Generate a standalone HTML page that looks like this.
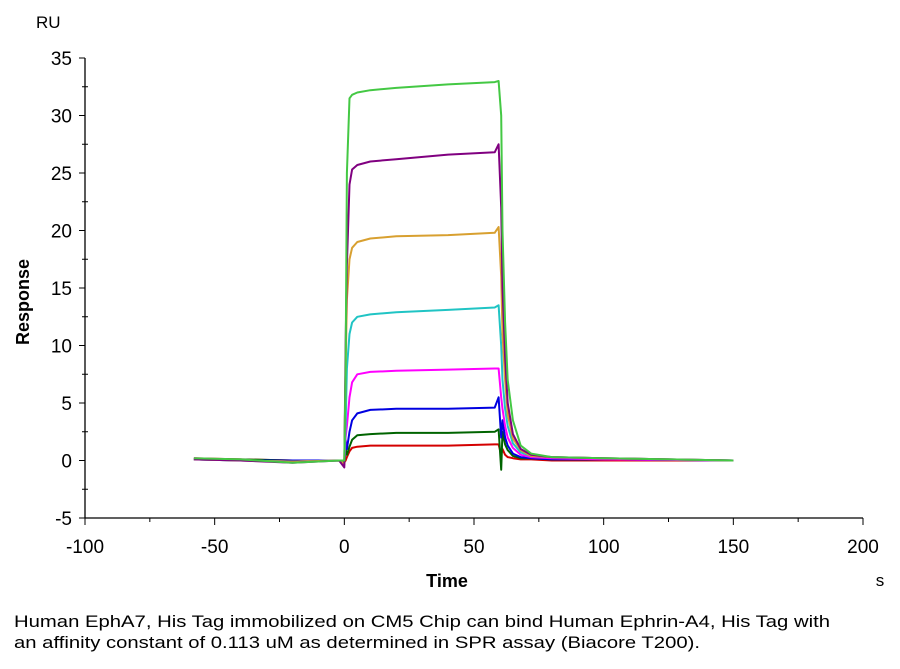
<!DOCTYPE html>
<html><head><meta charset="utf-8"><style>
body{margin:0;background:#fff;width:900px;height:664px;overflow:hidden;font-family:"Liberation Sans",Arial,sans-serif;}
svg text{font-family:"Liberation Sans",Arial,sans-serif;}
</style></head><body>
<svg id="chart" width="900" height="664" xmlns="http://www.w3.org/2000/svg">
<g id="axes"></g>
<g id="series"></g>
<text x="36" y="28" font-size="17">RU</text>
<text x="0" y="0" font-size="18" font-weight="bold" transform="translate(29,302) rotate(-90)" text-anchor="middle">Response</text>
<text x="447" y="587" font-size="18" font-weight="bold" text-anchor="middle">Time</text>
<text x="880" y="586" font-size="17" text-anchor="middle">s</text>
<text x="14" y="627" font-size="17" textLength="816" lengthAdjust="spacingAndGlyphs">Human EphA7, His Tag immobilized on CM5 Chip can bind Human Ephrin-A4, His Tag with</text>
<text x="14" y="648" font-size="17" textLength="686" lengthAdjust="spacingAndGlyphs">an affinity constant of 0.113 uM as determined in SPR assay (Biacore T200).</text>
</svg>
<script>
const times = [-58,-40,-20,-2,0,0.5,1,2,3,5,10,20,40,58,59.5,60.5,61,62,63,65,68,72,80,100,150];
const green = [0.2,0.1,-0.2,0,0,8,25,31.5,31.8,32,32.2,32.4,32.7,32.9,33,30,20,12,7,3.5,1.3,0.6,0.3,0.2,0];
const purple = [0.1,0,-0.2,0,-0.6,10,17,24,25.3,25.7,26,26.2,26.6,26.8,27.5,22,15,9,5,2.3,1,0.5,0.3,0.2,0];
const orange = [0.1,0,-0.1,0,-0.3,8,14,17.5,18.5,19,19.3,19.5,19.6,19.8,20.3,16,11,7,4,1.9,0.9,0.4,0.3,0.2,0];
const cyan = [0.1,0,-0.1,0,-0.3,3,8,11,12,12.5,12.7,12.9,13.1,13.3,13.5,10,7,4.5,3,1.5,0.7,0.4,0.3,0.2,0];
const magenta = [0.2,0,-0.1,0,-0.4,2,3,5.5,6.8,7.5,7.7,7.8,7.9,8,8,5.5,4.5,3,2,1.1,0.5,0.3,0.2,0.1,0];
const blue = [0.1,0,0,0,-0.3,1.8,1,2.5,3.5,4.1,4.4,4.5,4.5,4.6,5.5,2,3.5,2,1.3,0.6,0.3,0.2,0.1,0.1,0];
const darkgreen = [0.1,0.1,0,0,-0.3,1,0.5,1.2,1.8,2.2,2.3,2.4,2.4,2.5,2.7,-0.8,2.5,1.4,0.9,0.4,0.2,0.2,0.1,0.1,0];
const red = [0.2,0.1,0,0,-0.2,0,0.3,0.8,1.1,1.2,1.3,1.3,1.3,1.4,1.4,0.5,1,0.5,0.3,0.2,0.1,0.1,0,0,0];
const seriesNames = ["red","darkgreen","blue","magenta","cyan","orange","purple","green"];
const seriesValues = [red,darkgreen,blue,magenta,cyan,orange,purple,green];
const seriesColors = ["#d40000","#006400","#0000e0","#ff00ff","#20c4c4","#d8a030","#800080","#44c844"];
const xTicks = [-100,-50,0,50,100,150,200];
const yTicks = [-5,0,5,10,15,20,25,30,35];

const X0=85,X1=863,Y0=518,Y1=58;
const xs = v => X0+(v+100)/300*(X1-X0);
const ys = v => Y0-(v+5)/40*(Y0-Y1);
const NS="http://www.w3.org/2000/svg";
const axes=document.getElementById('axes');
function mk(tag,attrs,parent){const e=document.createElementNS(NS,tag);for(const k in attrs)e.setAttribute(k,attrs[k]);parent.appendChild(e);return e;}
let l=mk('line',{x1:X0,y1:Y0,x2:X1,y2:Y0,stroke:'#000','stroke-width':1.3},axes);


l=mk('line',{x1:X0,y1:Y0,x2:X0,y2:Y1,stroke:'#000','stroke-width':1.3},axes);


xTicks.forEach(t=>{
  const x=xs(t);
  mk('line',{x1:x,y1:Y0,x2:x,y2:Y0+7,stroke:'#000'},axes);
  if(t<200) mk('line',{x1:xs(t+25),y1:Y0,x2:xs(t+25),y2:Y0+4,stroke:'#000'},axes);
  const tx=mk('text',{x:x,y:Y0+35,'font-size':19,'text-anchor':'middle'},axes);
  tx.textContent=t;
  
  
});
yTicks.forEach(t=>{
  const y=ys(t);
  mk('line',{x1:X0-6,y1:y,x2:X0,y2:y,stroke:'#000'},axes);
  if(t<35) mk('line',{x1:X0-3,y1:ys(t+2.5),x2:X0+3,y2:ys(t+2.5),stroke:'#000'},axes);
  const tx=mk('text',{x:X0-13,y:y+7,'font-size':19,'text-anchor':'end'},axes);
  tx.textContent=t;
  
  
});
const sg=document.getElementById('series');
seriesValues.forEach((vals,i)=>{
  const d=times.map((t,j)=>(j?'L':'M')+xs(t).toFixed(1)+','+ys(vals[j]).toFixed(1)).join(' ');
  const p=mk('path',{d:d,fill:'none',stroke:seriesColors[i],'stroke-width':2,'stroke-linejoin':'round'},sg);
  
  
});
</script>
</body></html>
